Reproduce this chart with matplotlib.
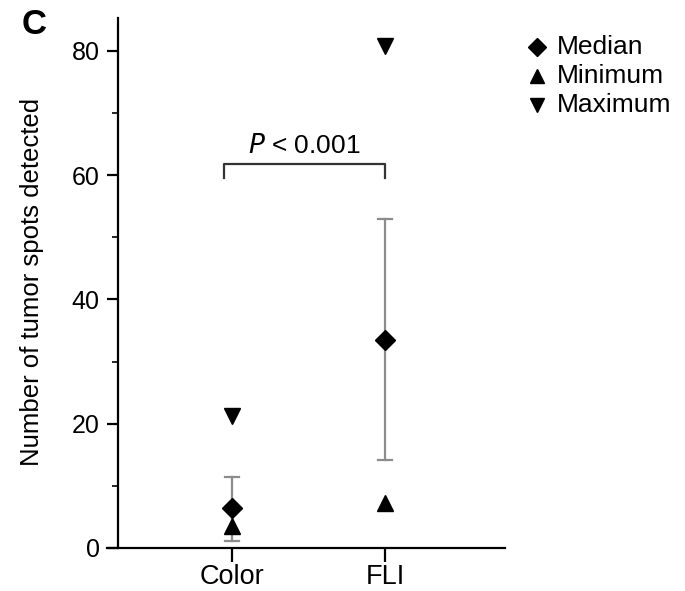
import matplotlib
matplotlib.use("Agg")
import matplotlib.pyplot as plt
from matplotlib.lines import Line2D
from matplotlib.ticker import MultipleLocator

plt.rcParams['font.family'] = ['Liberation Sans', 'DejaVu Sans']

categories = ["Color", "FLI"]
medians = [6.5, 33.5]
minimums = [3.5, 7.3]
maximums = [21.3, 80.8]
err_low = [1.2, 14.2]
err_high = [11.5, 53.0]
yticks = [0, 20, 40, 60, 80]
legend_labels = ["Median", "Minimum", "Maximum"]

W, H = 685, 591
fig = plt.figure(figsize=(W / 100, H / 100), dpi=100)
ax = fig.add_axes([0.156, 0.0728, 0.581, 0.897])

xs = list(range(len(categories)))
for x, lo, hi in zip(xs, err_low, err_high):
    ax.plot([x, x], [lo, hi], color='#8c8c8c', lw=1.6, zorder=1)
    ax.plot([x - 0.048, x + 0.048], [lo, lo], color='#8c8c8c', lw=1.6, zorder=1)
    ax.plot([x - 0.048, x + 0.048], [hi, hi], color='#8c8c8c', lw=1.6, zorder=1)

ax.plot(xs, medians, 'D', color='black', ms=10, ls='none', zorder=3)
ax.plot(xs, minimums, '^', color='black', ms=11, ls='none', zorder=3)
ax.plot(xs, maximums, 'v', color='black', ms=11, ls='none', zorder=3)

# significance bracket
ax.plot([-0.05, -0.05, 1.0, 1.0], [59.5, 61.8, 61.8, 59.5], color='#333333', lw=1.6)
ax.text(0.475, 64.6, r"$\it{P}$ < 0.001", ha='center', va='center', fontsize=19)

ax.set_xlim(-0.817, 1.784)
ax.set_ylim(0, 85.3)
ax.spines['top'].set_visible(False)
ax.spines['right'].set_visible(False)
ax.spines['left'].set_position(('data', -0.745))
ax.spines['left'].set_linewidth(1.6)
ax.spines['bottom'].set_linewidth(1.6)

ax.set_xticks(xs)
ax.set_xticklabels(categories, fontsize=19.5)
ax.set_yticks(yticks)
ax.set_yticklabels([str(v) for v in yticks], fontsize=18)
ax.yaxis.set_minor_locator(MultipleLocator(10))
ax.tick_params(axis='y', which='major', length=8, width=1.6, pad=5)
ax.tick_params(axis='y', which='minor', length=4, width=1.2)
ax.tick_params(axis='x', which='major', length=10, width=1.6, pad=1.5)

fig.text(32 / W, 1 - 282 / H, "Number of tumor spots detected", rotation=90,
         ha='center', va='center', fontsize=18.5)

# legend drawn manually
markers = ['D', '^', 'v']
sizes = [9.5, 10.5, 10.5]
rows_y = [47, 76, 105]
for m, s, lab, yy in zip(markers, sizes, legend_labels, rows_y):
    fig.add_artist(Line2D([537 / W], [1 - yy / H], marker=m, color='black', ms=s,
                          ls='none', transform=fig.transFigure))
    fig.text(557 / W, 1 - yy / H, lab, ha='left', va='center', fontsize=19)

fig.text(34 / W, 1 - 25 / H, "C", fontsize=25, fontweight='bold', ha='center', va='center')

fig.savefig("out.png", dpi=100)
